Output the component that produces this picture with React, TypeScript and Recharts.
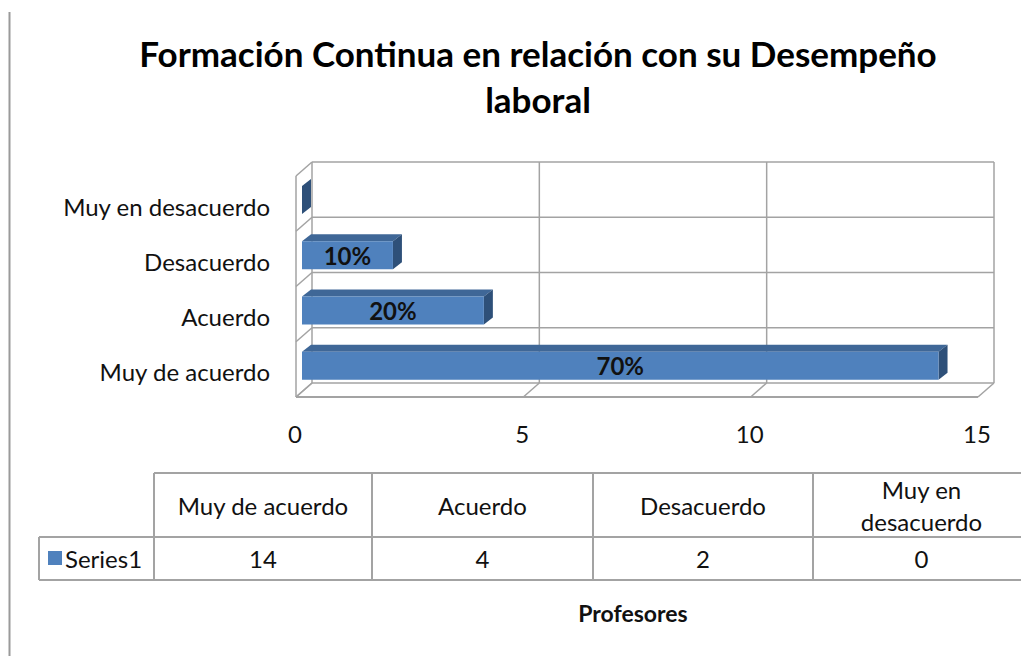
import { Bar, BarChart, CartesianGrid, LabelList, XAxis, YAxis } from "recharts";

const CATEGORIES = ["Muy de acuerdo", "Acuerdo", "Desacuerdo", "Muy en desacuerdo"];
const VALUES = [14, 4, 2, 0];
const SERIES_NAME = "Series1";
const X_TICKS = [0, 5, 10, 15];
const TITLE_LINES = ["Formación Continua en relación con su Desempeño", "laboral"];
const AXIS_TITLE = "Profesores";

const FONT = "Lato, 'Open Sans', sans-serif";
const BAR_FRONT = "#4F81BD";
const BAR_TOP = "#3F6797";
const BAR_SIDE = "#2E5079";
const GRID = "#A3A3A3";
// 3D depth of the floor / walls and of the bars
const DEPTH_X = 16;
const DEPTH_Y = 14;
const BAR_DX = 9;
const BAR_DY = 7;

// table layout (column edges)
const TABLE_COLS = [154, 372, 593, 813, 1030];
const TABLE_LEFT = 39;
const ROW_TOP = 473;
const ROW_MID = 537;
const ROW_BOTTOM = 580;

const data = CATEGORIES.map((label, i) => ({ label, value: VALUES[i] }));
const total = VALUES.reduce((a, b) => a + b, 0);

function HorizontalLine(p: any) {
  const { x1, y1, x2, index } = p;
  const bottom = p.y + p.height;
  const isTop = Math.abs(y1 - p.y) < 1;
  const isBottom = Math.abs(y1 - bottom) < 1;
  return (
    <g key={`h-${index}`}>
      <line x1={x1} y1={y1} x2={x2} y2={y1} stroke={GRID} strokeWidth={1.5} />
      <line x1={x1} y1={y1} x2={x1 - DEPTH_X} y2={y1 + DEPTH_Y} stroke={GRID} strokeWidth={1.5} />
      {isTop && (
        <line x1={x1 - DEPTH_X} y1={y1 + DEPTH_Y} x2={x1 - DEPTH_X} y2={bottom + DEPTH_Y} stroke={GRID} strokeWidth={1.5} />
      )}
      {isBottom && (
        <line x1={x1 - DEPTH_X} y1={y1 + DEPTH_Y} x2={x2 - DEPTH_X} y2={y1 + DEPTH_Y} stroke={GRID} strokeWidth={2} />
      )}
    </g>
  );
}

function VerticalLine(p: any) {
  const { x1, y1, y2, index } = p;
  return (
    <g key={`v-${index}`}>
      <line x1={x1} y1={y1} x2={x1} y2={y2} stroke={GRID} strokeWidth={1.5} />
      <line x1={x1} y1={y2} x2={x1 - DEPTH_X} y2={y2 + DEPTH_Y} stroke={GRID} strokeWidth={1.5} />
    </g>
  );
}

function Bar3D(p: any) {
  const x = p.x - 10;
  const y = p.y + 10;
  const w = Math.max(p.width || 0, 0);
  const h = p.height;
  return (
    <g>
      <polygon
        points={`${x},${y} ${x + BAR_DX},${y - BAR_DY} ${x + w + BAR_DX},${y - BAR_DY} ${x + w},${y}`}
        fill={BAR_TOP}
      />
      <polygon
        points={`${x + w},${y} ${x + w + BAR_DX},${y - BAR_DY} ${x + w + BAR_DX},${y + h - BAR_DY} ${x + w},${y + h}`}
        fill={BAR_SIDE}
      />
      <rect x={x} y={y} width={w} height={h} fill={BAR_FRONT} />
    </g>
  );
}

function PctLabel(p: any) {
  const v = Number(p.value);
  if (!v) return null;
  const cx = p.x - 10 + p.width / 2;
  const cy = p.y + 10 + p.height / 2;
  return (
    <text x={cx} y={cy} textAnchor="middle" dominantBaseline="central" fontFamily={FONT} fontWeight={700} fontSize={24} fill="#111">
      {`${Math.round((v / total) * 100)}%`}
    </text>
  );
}

function CategoryTick(p: any) {
  return (
    <text x={p.x - 42} y={p.y + 16.5} textAnchor="end" dominantBaseline="central" fontFamily={FONT} fontSize={24} fill="#111">
      {p.payload.value}
    </text>
  );
}

function ValueTick(p: any) {
  return (
    <text x={p.x - 17} y={p.y + 50} textAnchor="middle" dominantBaseline="central" fontFamily={FONT} fontSize={24} fill="#111">
      {p.payload.value}
    </text>
  );
}

function splitHeader(label: string): string[] {
  if (label.length <= 14) return [label];
  const cut = label.lastIndexOf(" ");
  return [label.slice(0, cut), label.slice(cut + 1)];
}

function DataTable() {
  const mids = CATEGORIES.map((_, i) => (TABLE_COLS[i] + TABLE_COLS[i + 1]) / 2);
  return (
    <g fontFamily={FONT} fontSize={24} fill="#111">
      <line x1={TABLE_COLS[0]} y1={ROW_TOP} x2={1021} y2={ROW_TOP} stroke={GRID} strokeWidth={2} />
      <line x1={TABLE_LEFT} y1={ROW_MID} x2={1021} y2={ROW_MID} stroke={GRID} strokeWidth={2} />
      <line x1={TABLE_LEFT} y1={ROW_BOTTOM} x2={1021} y2={ROW_BOTTOM} stroke={GRID} strokeWidth={2} />
      <line x1={TABLE_LEFT} y1={ROW_MID} x2={TABLE_LEFT} y2={ROW_BOTTOM} stroke={GRID} strokeWidth={2} />
      {TABLE_COLS.slice(0, 4).map((cx) => (
        <line key={cx} x1={cx} y1={ROW_TOP} x2={cx} y2={ROW_BOTTOM} stroke={GRID} strokeWidth={2} />
      ))}
      {CATEGORIES.map((c, i) => {
        const lines = splitHeader(c);
        const mid = (ROW_TOP + ROW_MID) / 2;
        return lines.map((ln, j) => (
          <text
            key={`${c}-${j}`}
            x={mids[i]}
            y={mid + (j - (lines.length - 1) / 2) * 32}
            textAnchor="middle"
            dominantBaseline="central"
          >
            {ln}
          </text>
        ));
      })}
      <rect x={48} y={551} width={14} height={14} fill={BAR_FRONT} />
      <text x={65} y={(ROW_MID + ROW_BOTTOM) / 2} dominantBaseline="central">
        {SERIES_NAME}
      </text>
      {VALUES.map((v, i) => (
        <text key={i} x={mids[i]} y={(ROW_MID + ROW_BOTTOM) / 2} textAnchor="middle" dominantBaseline="central">
          {v}
        </text>
      ))}
    </g>
  );
}

export default function App() {
  return (
    <div style={{ position: "absolute", left: 0, top: 0, width: 1021, height: 656, overflow: "hidden", background: "#fff" }}>
      <div style={{ position: "absolute", left: 0, top: 0 }}>
        <BarChart
          width={1021}
          height={460}
          data={data}
          layout="vertical"
          margin={{ top: 162, right: 27, bottom: 17, left: 0 }}
          barCategoryGap={0}
        >
          <CartesianGrid
            horizontalCoordinatesGenerator={({ offset }: any) =>
              CATEGORIES.map((_, i) => offset.top + (offset.height * i) / CATEGORIES.length).concat(offset.top + offset.height)
            }
            horizontal={HorizontalLine}
            vertical={VerticalLine}
          />
          <XAxis
            type="number"
            domain={[0, 15]}
            ticks={X_TICKS}
            interval={0}
            axisLine={false}
            tickLine={false}
            tickSize={0}
            tickMargin={0}
            height={60}
            tick={ValueTick}
          />
          <YAxis
            type="category"
            dataKey="label"
            reversed
            interval={0}
            width={312}
            axisLine={false}
            tickLine={false}
            tickSize={0}
            tickMargin={0}
            tick={CategoryTick}
          />
          <Bar dataKey="value" barSize={28} shape={Bar3D} isAnimationActive={false}>
            <LabelList dataKey="value" content={PctLabel} />
          </Bar>
        </BarChart>
      </div>
      <svg width={1021} height={656} style={{ position: "absolute", left: 0, top: 0, pointerEvents: "none" }}>
        <line x1={9.5} y1={12} x2={9.5} y2={656} stroke="#9A9A9A" strokeWidth={2} />
        {TITLE_LINES.map((t, i) => (
          <text key={i} x={538} y={67 + i * 46} textAnchor="middle" fontFamily={FONT} fontWeight={700} fontSize={35} fill="#000">
            {t}
          </text>
        ))}
        <DataTable />
        <text x={633} y={613} textAnchor="middle" dominantBaseline="central" fontFamily={FONT} fontWeight={700} fontSize={23} fill="#111">
          {AXIS_TITLE}
        </text>
      </svg>
    </div>
  );
}
